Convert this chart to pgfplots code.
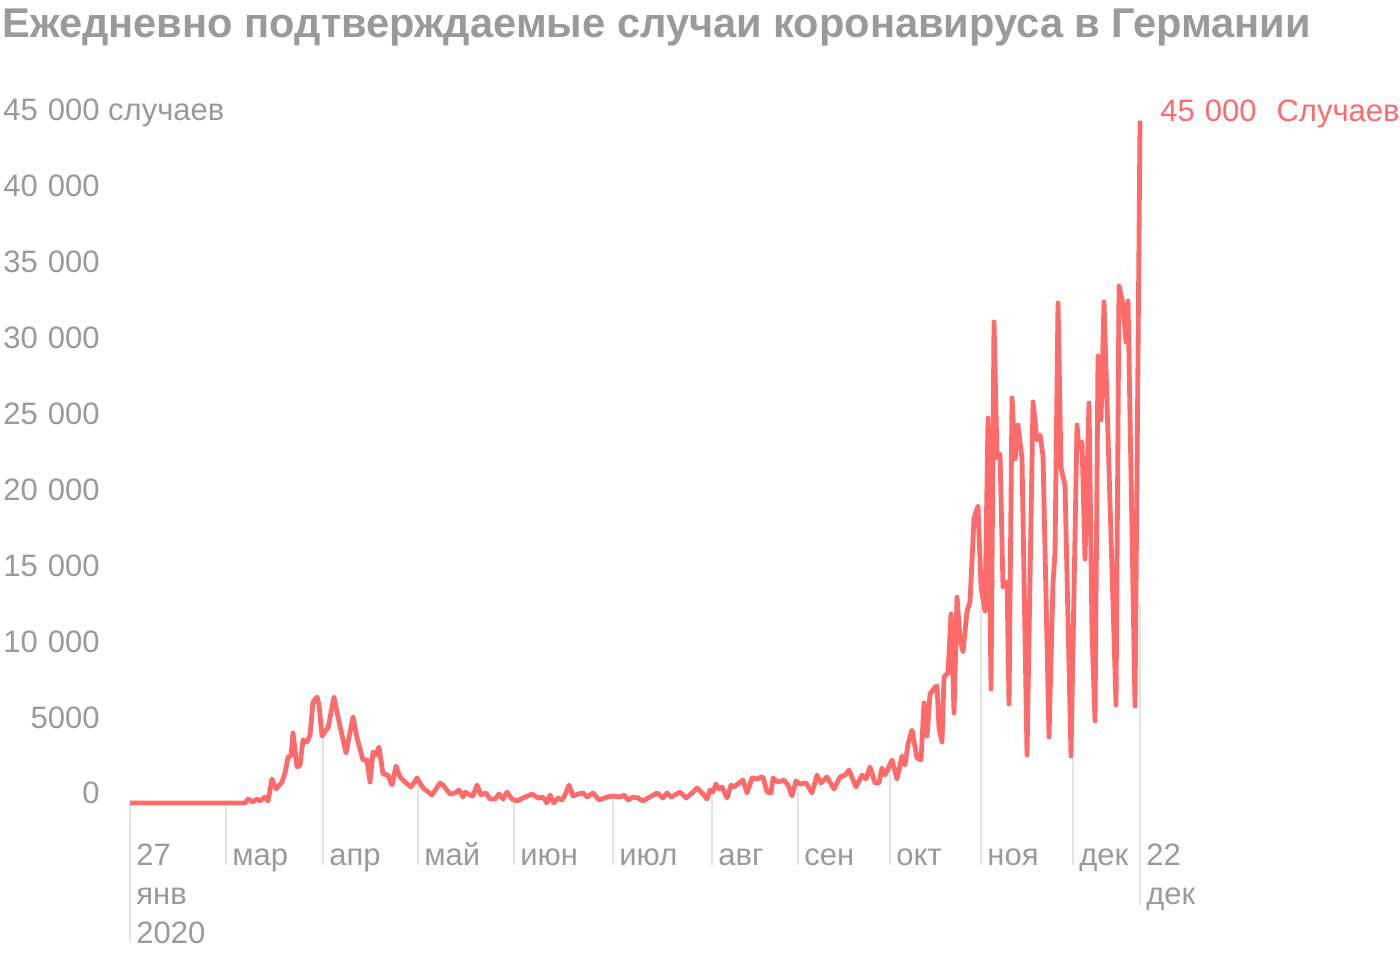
\documentclass[border=0pt]{standalone}
\usepackage{pgfplots}
\pgfplotsset{compat=1.18}
\usepackage{pgfplotstable}
\usepackage{fontspec}
\setmainfont{Liberation Sans}
\definecolor{linered}{HTML}{FF6B6B}
\definecolor{txtgray}{HTML}{9A9A9A}
\definecolor{tickgray}{HTML}{E3E3E3}
\newcommand{\ts}{\hspace{5pt}}

% x = horizontal position on the chart (27 Jan 2020 = 130 ... 22 Dec = 1140), y = daily cases
\pgfplotstableread{
x y
130 0
245 0
248 260
253 70
257 260
260 130
265 390
268 130
272 1580
276 920
282 1380
285 1970
288 3030
291 3090
293 4610
297 2370
300 2500
303 4150
307 4010
310 4470
313 6650
317 6970
319 6450
322 4410
326 4800
328 4930
334 6970
338 5660
346 3290
353 5660
357 4280
363 2830
367 2830
370 1380
373 3360
376 3160
379 3680
383 1910
388 1840
392 1180
396 2430
400 1710
405 1380
411 1050
417 1650
423 990
432 530
440 1320
443 1180
450 590
455 660
459 860
463 390
465 720
470 530
473 460
477 1180
481 530
486 660
490 260
495 260
499 590
503 260
507 720
512 260
517 130
523 330
532 590
538 330
543 390
547 0
550 530
554 0
558 330
562 200
565 530
569 1180
573 460
578 590
583 660
587 390
593 660
599 200
607 390
613 460
620 390
624 530
628 200
633 390
638 330
643 130
648 330
657 660
663 330
667 660
671 390
680 720
686 330
692 660
697 990
703 590
707 260
710 860
713 720
716 1250
719 920
722 1050
727 330
731 1180
734 1050
740 1380
743 1510
747 660
752 1650
757 1580
761 1710
763 1710
767 720
771 660
773 1650
778 1380
784 1510
788 1180
792 460
796 1450
800 1250
806 1320
812 660
817 1840
821 1320
827 1710
834 920
840 1710
845 1840
849 2170
856 1050
862 1840
866 1580
870 2370
875 1320
879 1320
882 2300
885 1840
892 2830
897 1580
902 3090
905 2500
908 3880
912 4800
917 2960
921 2830
924 6580
927 4410
930 7170
935 7630
937 7700
939 4940
942 4010
944 8290
948 8550
951 12440
954 5920
957 13550
960 10730
963 9940
967 12630
970 13230
974 18750
978 19540
981 14210
985 12630
988 25330
991 7500
994 31650
997 22700
1000 22960
1003 14210
1007 14540
1009 6510
1012 26650
1015 22640
1018 24870
1022 22640
1027 3160
1033 26390
1037 23890
1040 24210
1043 22830
1049 4340
1053 14480
1055 16520
1058 32900
1061 22040
1065 20920
1071 3090
1077 24870
1079 23290
1082 23750
1085 16060
1089 26320
1092 11250
1095 5400
1098 29410
1101 25200
1104 32970
1116 6450
1119 34020
1123 32830
1126 30330
1128 33030
1135 6380
1140 44900
}\cases

% vertical date lines: from the value down below the axis
\pgfplotstableread{
x y
130 0
130 -9150
130 nan
226 0
226 -4080
226 nan
323 4500
323 -4080
323 nan
418 1600
418 -4080
418 nan
514 200
514 -4080
514 nan
613 460
613 -4080
613 nan
712 790
712 -4080
712 nan
798 1000
798 -4080
798 nan
890 2700
890 -4080
890 nan
981 13090
981 -4080
981 nan
1073 3000
1073 -4080
1073 nan
1140 13090
1140 -6710
}\datelines

\begin{document}
\begin{tikzpicture}[x=1pt,y=1pt]
\useasboundingbox (0,0) rectangle (700,478);
\begin{axis}[
  at={(0,0)}, anchor=south west,
  scale only axis, width=700pt, height=478pt,
  xmin=0, xmax=1400, ymin=-10067, ymax=52837,
  clip=false,
  axis line style={draw=none},
  major tick length=0pt,
  tick style={draw=none},
  ytick={0,5000,10000,15000,20000,25000,30000,35000,40000,45000},
  yticklabels={0,5000,10\ts000,15\ts000,20\ts000,25\ts000,30\ts000,35\ts000,40\ts000,{45\ts000\rlap{ случаев}}},
  yticklabel style={anchor=base east, xshift=50pt, yshift=-0.5pt, inner sep=0pt,
    font=\fontsize{15.5}{19.5}\selectfont, text=txtgray},
  xtick={130,226,323,418,514,613,712,798,890,981,1073,1140},
  xticklabels={{\begin{tabular}[t]{@{}l@{}}27\\янв\\2020\end{tabular}},мар,апр,май,июн,июл,авг,сен,окт,ноя,дек,{\begin{tabular}[t]{@{}l@{}}22\\дек\end{tabular}}},
  xticklabel style={anchor=base west, xshift=3pt, yshift=45pt, inner sep=0pt,
    font=\fontsize{15.5}{19.5}\selectfont, text=txtgray},
]
\addplot[draw=tickgray, line width=1pt, unbounded coords=jump, mark=none] table[x=x,y=y] {\datelines};
\addplot[draw=linered, line width=2.4pt, line join=round, mark=none] table[x=x,y=y] {\cases};
\end{axis}
\node[anchor=base west, inner sep=0pt, text height=15pt, text=txtgray, font=\fontsize{20.8}{24}\selectfont\bfseries] at (1,459) {Ежедневно подтверждаемые случаи коронавируса в Германии};
\node[anchor=base west, inner sep=0pt, text=linered, font=\fontsize{15.5}{19.5}\selectfont] at (580,417) {45\ts000\hspace{10pt}Случаев};
\end{tikzpicture}
\end{document}
